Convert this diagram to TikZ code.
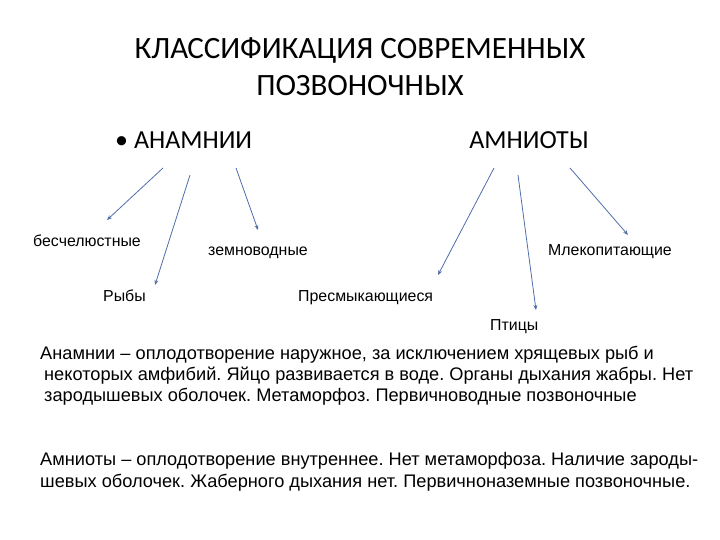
\documentclass[tikz,border=0pt]{standalone}
\usepackage{fontspec}
\setmainfont{Liberation Sans}
\newfontfamily\titlefont{Carlito}
\usetikzlibrary{arrows.meta}
\definecolor{arrc}{RGB}{80,110,170}
\frenchspacing
\begin{document}
\begin{tikzpicture}[x=1pt,y=-1pt,
  lbl/.style={anchor=base west,inner sep=0pt,font=\fontsize{15.9}{18}\selectfont},
  para/.style={anchor=base west,inner sep=0pt,font=\fontsize{18.2}{22}\selectfont},
  hd/.style={anchor=base,inner sep=0pt,font=\titlefont\fontsize{31}{36}\selectfont},
  arr/.style={draw=arrc,line width=0.8pt,-{Stealth[length=5pt,width=4pt]}}]
\useasboundingbox[fill=white] (0,0) rectangle (720,540);
\node[hd] (t1) at (360,59) {КЛАССИФИКАЦИЯ СОВРЕМЕННЫХ};
\node[hd] (t2) at (360,96) {ПОЗВОНОЧНЫХ};
\node[anchor=base west,inner sep=0pt,font=\titlefont\fontsize{26}{30}\selectfont] (an) at (115,149) {\textbullet\ АНАМНИИ};
\node[anchor=base,inner sep=0pt,font=\titlefont\fontsize{26}{30}\selectfont] (am) at (529,149) {АМНИОТЫ};
\node[lbl] (b) at (33,246) {бесчелюстные};
\node[lbl] (z) at (208,255) {земноводные};
\node[lbl] (m) at (548,255) {Млекопитающие};
\node[lbl] (r) at (103,301) {Рыбы};
\node[lbl] (p) at (298,301) {Пресмыкающиеся};
\node[lbl] (pt) at (490,330) {Птицы};
\coordinate (a1) at (163,168); \coordinate (e1) at (107,220);
\coordinate (a2) at (190,175); \coordinate (e2) at (155,285);
\coordinate (a3) at (236,168); \coordinate (e3) at (258,230);
\coordinate (a4) at (494,168); \coordinate (e4) at (438,275);
\coordinate (a5) at (518,175); \coordinate (e5) at (536,310);
\coordinate (a6) at (570,168); \coordinate (e6) at (628,235);
\foreach \i in {1,...,6} \draw[arr] (a\i) -- (e\i);
\node[para] (l1) at (40,359) {Анамнии – оплодотворение наружное, за исключением хрящевых рыб и};
\node[para] (l2) at (44,380) {некоторых амфибий. Яйцо развивается в воде. Органы дыхания жабры. Нет};
\node[para] (l3) at (44,401) {зародышевых оболочек. Метаморфоз. Первичноводные позвоночные};
\node[para] (l4) at (40,465) {Амниоты – оплодотворение внутреннее. Нет метаморфоза. Наличие зароды-};
\node[para] (l5) at (40,487) {шевых оболочек. Жаберного дыхания нет. Первичноназемные позвоночные.};
\end{tikzpicture}
\end{document}
